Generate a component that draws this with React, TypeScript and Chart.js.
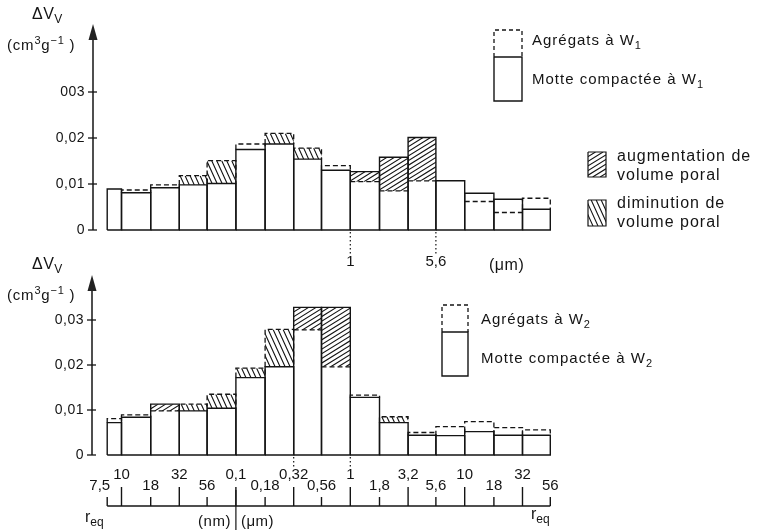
import React, { useEffect, useRef } from 'react';
import { Chart, registerables } from 'chart.js';

Chart.register(...registerables);

// ---- data ----
// bin edges of equivalent radius r_eq, in nm
const binEdges = [7.5, 10, 18, 32, 56, 100, 180, 320, 560, 1000, 1800, 3200, 5600, 10000, 18000, 32000, 56000];
// panel W1 (cm3/g)
const motteW1 = [0.0089, 0.0081, 0.0092, 0.0098, 0.0101, 0.0175, 0.0187, 0.0154, 0.0130, 0.0127, 0.0158, 0.0201, 0.0107, 0.0080, 0.0067, 0.0045];
const agregatsW1 = [0.0088, 0.0087, 0.0098, 0.0118, 0.0151, 0.0187, 0.0210, 0.0178, 0.0140, 0.0105, 0.0085, 0.0107, 0.0107, 0.0062, 0.0038, 0.0069];
// 1 = augmentation (/), -1 = diminution (\), 0 = none
const hatchW1 = [0, 0, 0, -1, -1, 0, -1, -1, 0, 1, 1, 1, 0, 0, 0, 0];
// panel W2
const motteW2 = [0.0072, 0.0084, 0.0113, 0.0098, 0.0104, 0.0172, 0.0196, 0.0328, 0.0328, 0.0128, 0.0072, 0.0044, 0.0043, 0.0052, 0.0044, 0.0044];
const agregatsW2 = [0.0081, 0.0089, 0.0098, 0.0113, 0.0135, 0.0193, 0.0279, 0.0278, 0.0196, 0.0133, 0.0085, 0.0050, 0.0063, 0.0074, 0.0061, 0.0056];
const hatchW2 = [0, 0, 1, -1, -1, -1, -1, 1, 1, 0, -1, 0, 0, 0, 0, 0];

const yTicks = [0, 0.01, 0.02, 0.03];
const yTickLabelsW1 = ['0', '0,01', '0,02', '003'];
const yTickLabelsW2 = ['0', '0,01', '0,02', '0,03'];

const rTicks = [7.5, 10, 18, 32, 56, 100, 180, 320, 560, 1000, 1800, 3200, 5600, 10000, 18000, 32000, 56000];
const rTickLabels = ['7,5', '10', '18', '32', '56', '0,1', '0,18', '0,32', '0,56', '1', '1,8', '3,2', '5,6', '10', '18', '32', '56'];
const rTickMajor = [false, true, false, true, false, true, false, true, false, true, false, true, false, true, false, true, false];

const topMarks = [1000, 5600];
const topMarkLabels = ['1', '5,6'];
const bottomMarks = [320, 1000];

// ---- drawing helpers ----
const FONT = '"Liberation Sans", Arial, Helvetica, sans-serif';
const INK = '#141414';

type Part = [string, number]; // 0 normal, 1 sub, 2 sup

function drawRich(ctx: CanvasRenderingContext2D, parts: Part[], x: number, y: number, size: number, align = 'left', spacing = 0) {
  ctx.save();
  (ctx as any).letterSpacing = spacing + 'px';
  const fontFor = (k: number) => `${k ? Math.round(size * 0.72) : size}px ${FONT}`;
  let total = 0;
  const widths = parts.map(([t, k]) => {
    ctx.font = fontFor(k);
    const w = ctx.measureText(t).width;
    total += w;
    return w;
  });
  let cx = align === 'right' ? x - total : align === 'center' ? x - total / 2 : x;
  ctx.textBaseline = 'middle';
  ctx.textAlign = 'left';
  ctx.fillStyle = INK;
  parts.forEach(([t, k], i) => {
    ctx.font = fontFor(k);
    const dy = k === 1 ? size * 0.32 : k === 2 ? -size * 0.36 : 0;
    ctx.fillText(t, cx, y + dy);
    cx += widths[i];
  });
  ctx.restore();
}

function hatchRect(ctx: CanvasRenderingContext2D, x0: number, y0: number, x1: number, y1: number, type: number) {
  if (y1 - y0 < 1) return;
  ctx.save();
  ctx.beginPath();
  ctx.rect(x0, y0, x1 - x0, y1 - y0);
  ctx.clip();
  ctx.beginPath();
  const h = y1 - y0;
  if (type > 0) {
    const k = 0.62, step = 7.5;
    const run = h / k;
    for (let t = x0 - run - step; t < x1 + step; t += step) {
      ctx.moveTo(t, y1);
      ctx.lineTo(t + run, y0);
    }
  } else {
    const k = 2.2, step = 5;
    const run = h / k;
    for (let t = x0 - run - step; t < x1 + step; t += step) {
      ctx.moveTo(t, y0);
      ctx.lineTo(t + run, y1);
    }
  }
  ctx.setLineDash([]);
  ctx.lineWidth = 1.1;
  ctx.strokeStyle = INK;
  ctx.stroke();
  ctx.restore();
}

function line(ctx: CanvasRenderingContext2D, pts: number[][], width = 1.4, dash: number[] = []) {
  ctx.save();
  ctx.setLineDash(dash);
  ctx.lineWidth = width;
  ctx.strokeStyle = INK;
  ctx.beginPath();
  pts.forEach(([x, y], i) => (i ? ctx.lineTo(x, y) : ctx.moveTo(x, y)));
  ctx.stroke();
  ctx.restore();
}

function drawBins(ctx: CanvasRenderingContext2D, xs: any, ys: any, motte: number[], agr: number[], hatch: number[]) {
  const y0 = ys.getPixelForValue(0);
  for (let i = 0; i < motte.length; i++) {
    const xa = xs.getPixelForValue(binEdges[i]);
    const xb = xs.getPixelForValue(binEdges[i + 1]);
    const ym = ys.getPixelForValue(motte[i]);
    const yg = ys.getPixelForValue(agr[i]);
    if (hatch[i]) hatchRect(ctx, xa, Math.min(ym, yg), xb, Math.max(ym, yg), hatch[i]);
    line(ctx, [[xa, y0], [xa, ym], [xb, ym], [xb, y0], [xa, y0]], 1.4);
    if (yg < ym - 0.5) {
      line(ctx, [[xa, ym], [xa, yg], [xb, yg], [xb, ym]], 1.3, [5, 3]);
    } else if (yg > ym + 0.5) {
      line(ctx, [[xa, yg], [xb, yg]], 1.3, [5, 3]);
    }
  }
}

function drawYAxis(ctx: CanvasRenderingContext2D, ys: any, ax: number, tipY: number, labels: string[]) {
  const y0 = ys.getPixelForValue(0);
  line(ctx, [[ax, y0], [ax, tipY + 12]], 1.5);
  ctx.save();
  ctx.fillStyle = '#222';
  ctx.beginPath();
  ctx.moveTo(ax, tipY);
  ctx.lineTo(ax - 4.5, tipY + 16);
  ctx.lineTo(ax + 4.5, tipY + 16);
  ctx.closePath();
  ctx.fill();
  ctx.restore();
  yTicks.forEach((v, i) => {
    const py = ys.getPixelForValue(v);
    line(ctx, [[ax - 5, py], [ax + 4, py]], 1.3);
    drawRich(ctx, [[labels[i], 0]], ax - 8, py, 14, 'right', 0.5);
  });
}

function drawLegendBoxes(ctx: CanvasRenderingContext2D, x0: number, x1: number, yTop: number, yMid: number, yBot: number) {
  line(ctx, [[x0, yMid], [x0, yTop], [x1, yTop], [x1, yMid]], 1.3, [4, 3]);
  line(ctx, [[x0, yMid], [x1, yMid], [x1, yBot], [x0, yBot], [x0, yMid]], 1.4);
}

const X_PX10 = 121.5;
const X_DEC = 114.4;
const X_MIN = Math.pow(10, 1 - X_PX10 / X_DEC);
const X_MAX = Math.pow(10, 1 + (764 - X_PX10) / X_DEC);

const unitParts: Part[] = [['(cm', 0], ['3', 2], ['g', 0], ['−1', 2], [' )', 0]];

const paperPlugin = {
  id: 'paper',
  afterDraw(chart: any) {
    const ctx: CanvasRenderingContext2D = chart.ctx;
    const xs = chart.scales.x;
    const yT = chart.scales.yTop;
    const yB = chart.scales.yBot;
    ctx.save();

    // ---------- top panel ----------
    drawBins(ctx, xs, yT, motteW1, agregatsW1, hatchW1);
    drawYAxis(ctx, yT, 93, 24, yTickLabelsW1);
    drawRich(ctx, [['ΔV', 0], ['V', 1]], 32, 15, 16, 'left', 0.5);
    drawRich(ctx, unitParts, 7, 46, 15, 'left', 0.8);
    const yz1 = yT.getPixelForValue(0);
    topMarks.forEach((m, i) => {
      const px = xs.getPixelForValue(m);
      line(ctx, [[px, yz1 + 2], [px, yz1 + 24]], 1.2, [1.5, 2.5]);
      drawRich(ctx, [[topMarkLabels[i], 0]], px, yz1 + 32, 15, 'center');
    });
    drawRich(ctx, [['(μm)', 0]], 489, yz1 + 36, 16, 'left', 0.5);

    // legend W1
    drawLegendBoxes(ctx, 494, 522, 30, 57, 101);
    drawRich(ctx, [['Agrégats à W', 0], ['1', 1]], 532, 41, 15, 'left', 1);
    drawRich(ctx, [['Motte compactée à W', 0], ['1', 1]], 532, 80, 15, 'left', 1);

    // hatch legend
    hatchRect(ctx, 588, 152, 606, 177, 1);
    line(ctx, [[588, 152], [606, 152], [606, 177], [588, 177], [588, 152]], 1.2);
    drawRich(ctx, [['augmentation de', 0]], 617, 157, 16, 'left', 1);
    drawRich(ctx, [['volume poral', 0]], 617, 176, 16, 'left', 1);
    hatchRect(ctx, 588, 200, 606, 226, -1);
    line(ctx, [[588, 200], [606, 200], [606, 226], [588, 226], [588, 200]], 1.2);
    drawRich(ctx, [['diminution de', 0]], 617, 204, 16, 'left', 1);
    drawRich(ctx, [['volume poral', 0]], 617, 223, 16, 'left', 1);

    // ---------- bottom panel ----------
    drawBins(ctx, xs, yB, motteW2, agregatsW2, hatchW2);
    drawYAxis(ctx, yB, 92, 275, yTickLabelsW2);
    drawRich(ctx, [['ΔV', 0], ['V', 1]], 32, 265, 16, 'left', 0.5);
    drawRich(ctx, unitParts, 7, 296, 15, 'left', 0.8);
    const yz2 = yB.getPixelForValue(0);
    bottomMarks.forEach((m) => {
      const px = xs.getPixelForValue(m);
      line(ctx, [[px, yz2 + 2], [px, yz2 + 14]], 1.2, [1.5, 2.5]);
    });

    drawLegendBoxes(ctx, 442, 468, 305, 332, 376);
    drawRich(ctx, [['Agrégats à W', 0], ['2', 1]], 481, 320, 15, 'left', 1);
    drawRich(ctx, [['Motte compactée à W', 0], ['2', 1]], 481, 359, 15, 'left', 1);

    // r_eq axis
    const axY = 506;
    const xl = xs.getPixelForValue(rTicks[0]);
    const xr = xs.getPixelForValue(rTicks[rTicks.length - 1]);
    line(ctx, [[xl, axY], [xr, axY]], 1.5);
    rTicks.forEach((r, i) => {
      const px = xs.getPixelForValue(r);
      const h = rTickMajor[i] ? 19 : 9;
      line(ctx, [[px, axY], [px, axY - h]], 1.4);
      const ly = rTickMajor[i] ? axY - h - 12 : axY - h - 11;
      if (i === 0) drawRich(ctx, [[rTickLabels[i], 0]], px + 3, ly, 15, 'right');
      else drawRich(ctx, [[rTickLabels[i], 0]], px, ly, 15, 'center');
    });
    const xSep = xs.getPixelForValue(100);
    line(ctx, [[xSep, axY - 16], [xSep, 530]], 1.2);
    drawRich(ctx, [['(nm)', 0]], xSep - 5, 522, 15, 'right', 0.5);
    drawRich(ctx, [['(μm)', 0]], xSep + 5, 522, 15, 'left', 0.5);
    drawRich(ctx, [['r', 0], ['eq', 1]], 85, 518, 16);
    drawRich(ctx, [['r', 0], ['eq', 1]], 531, 515, 16);

    ctx.restore();
  },
};

function centers(vals: number[]) {
  return vals.map((v, i) => ({ x: Math.sqrt(binEdges[i] * binEdges[i + 1]), y: v }));
}

export default function App() {
  const ref = useRef<HTMLCanvasElement>(null);
  useEffect(() => {
    if (!ref.current) return;
    const chart = new Chart(ref.current, {
      type: 'scatter',
      data: {
        datasets: [
          { label: 'Motte compactée à W1', data: centers(motteW1), xAxisID: 'x', yAxisID: 'yTop', pointRadius: 0, showLine: false },
          { label: 'Agrégats à W1', data: centers(agregatsW1), xAxisID: 'x', yAxisID: 'yTop', pointRadius: 0, showLine: false },
          { label: 'Motte compactée à W2', data: centers(motteW2), xAxisID: 'x', yAxisID: 'yBot', pointRadius: 0, showLine: false },
          { label: 'Agrégats à W2', data: centers(agregatsW2), xAxisID: 'x', yAxisID: 'yBot', pointRadius: 0, showLine: false },
        ],
      },
      options: {
        animation: false,
        responsive: false,
        events: [],
        layout: { padding: 0 },
        plugins: { legend: { display: false }, tooltip: { enabled: false }, title: { display: false } },
        scales: {
          x: { type: 'logarithmic', display: false, min: X_MIN, max: X_MAX, bounds: 'data' },
          yTop: { type: 'linear', display: false, min: -300 / 4600, max: 230 / 4600, bounds: 'data', position: 'left' },
          yBot: { type: 'linear', display: false, min: -75 / 4500, max: 455 / 4500, bounds: 'data', position: 'left' },
        },
      } as any,
      plugins: [paperPlugin],
    });
    return () => chart.destroy();
  }, []);
  return (
    <div style={{ position: 'absolute', left: 0, top: 0, width: 764, height: 530, background: '#fff' }}>
      <canvas ref={ref} width={764} height={530} style={{ display: 'block' }} />
    </div>
  );
}
